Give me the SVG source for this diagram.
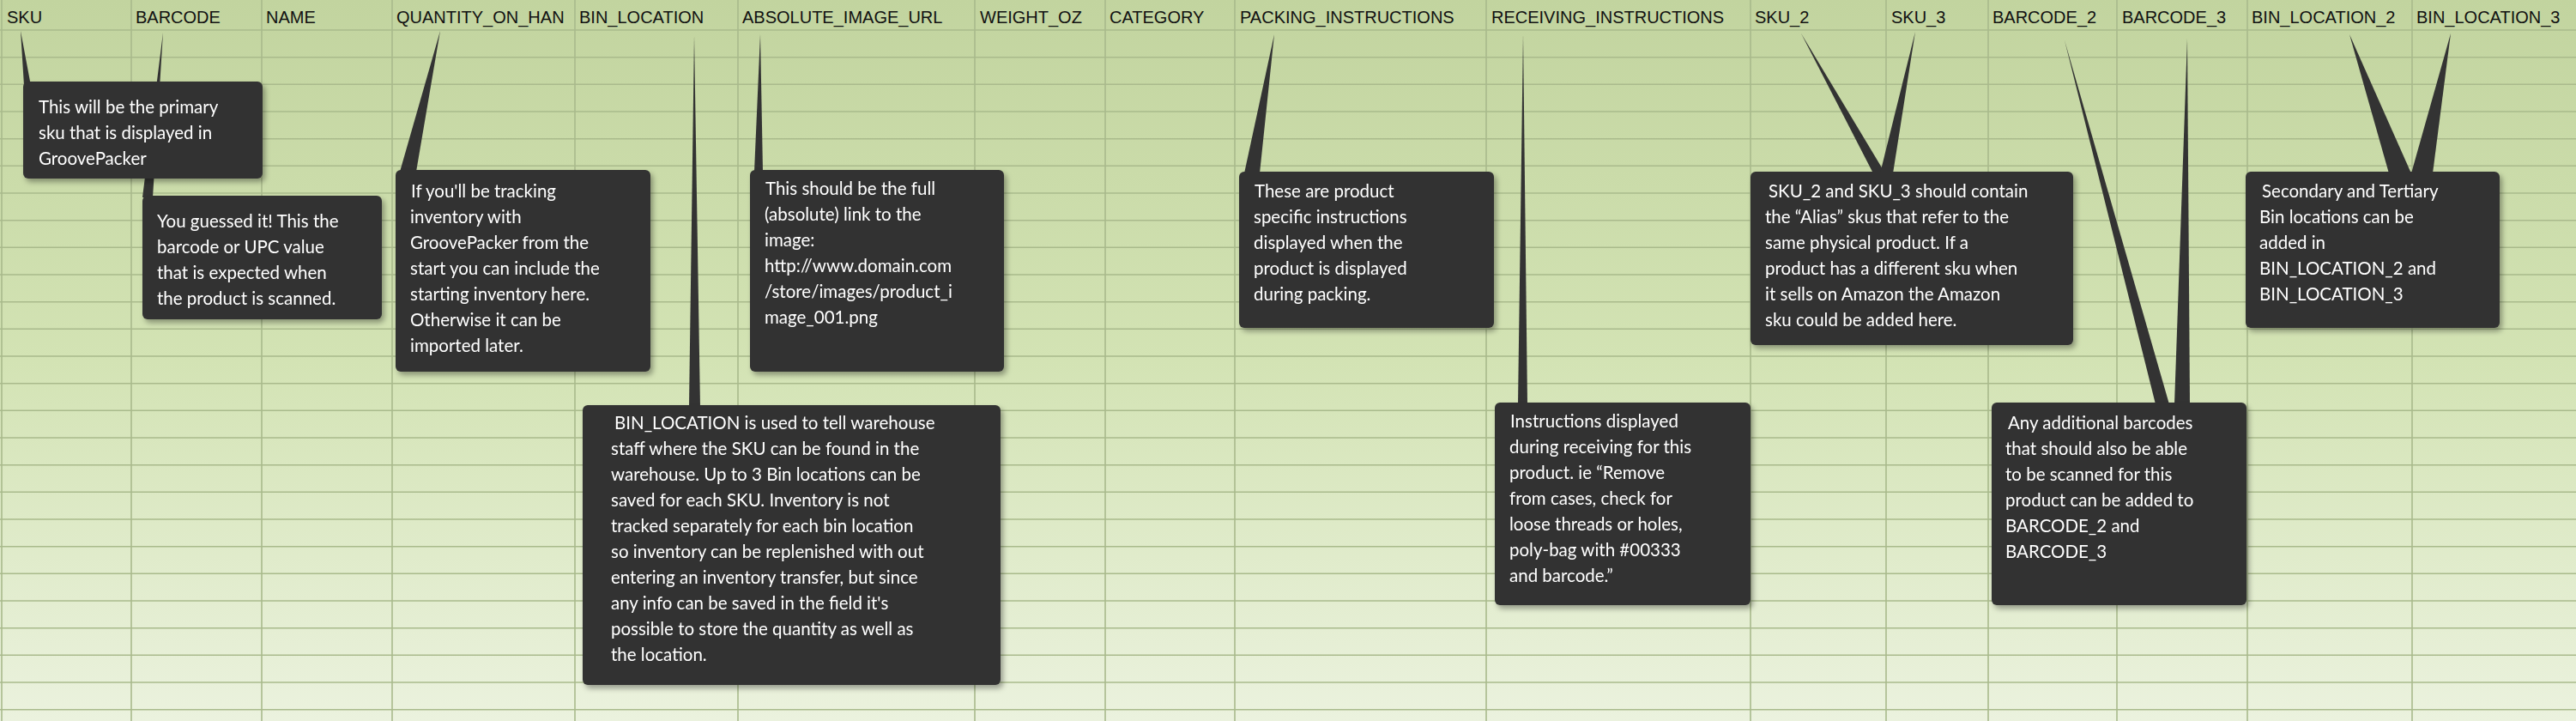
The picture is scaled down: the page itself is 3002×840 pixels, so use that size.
<svg xmlns="http://www.w3.org/2000/svg" width="3002" height="840" viewBox="0 0 3002 840">
<style>
.hd{font-family:"Liberation Sans",Arial,sans-serif;font-size:20px;fill:#111}
.bx{fill:#333333}
.tx{font-family:Lato,"Open Sans",sans-serif;font-size:20.5px;fill:#ffffff}
.g{stroke:#a9ba8c;stroke-width:1.6}
.p{fill:#333333}
</style>
<defs>
<linearGradient id="bg" x1="0" y1="0" x2="0" y2="1">
<stop offset="0" stop-color="#c2d49f"/>
<stop offset="0.5" stop-color="#d3e3b4"/>
<stop offset="1" stop-color="#ebf2de"/>
</linearGradient>
<filter id="sh" x="-10%" y="-10%" width="125%" height="125%">
<feDropShadow dx="3" dy="4" stdDeviation="3" flood-color="#000" flood-opacity="0.35"/>
</filter>
</defs>
<rect width="3002" height="840" fill="url(#bg)"/>
<g id="grid">
<path class="g" d="M0 35H3002M0 66.7H3002M0 98.3H3002M0 130H3002M0 161.7H3002M0 193.3H3002M0 225H3002M0 256.7H3002M0 288.3H3002M0 320H3002M0 351.7H3002M0 383.3H3002M0 415H3002M0 446.7H3002M0 478.3H3002M0 510H3002M0 541.7H3002M0 573.3H3002M0 605H3002M0 636.7H3002M0 668.3H3002M0 700H3002M0 731.7H3002M0 763.3H3002M0 795H3002M0 826.7H3002"/>
<path class="g" d="M2 0V840M153 0V840M305 0V840M457 0V840M670 0V840M860 0V840M1136 0V840M1288 0V840M1439 0V840M1732 0V840M2040 0V840M2198 0V840M2317 0V840M2467 0V840M2619 0V840M2811 0V840"/>
</g>
<g id="headers" class="hd">
<text x="8" y="27">SKU</text>
<text x="158" y="27">BARCODE</text>
<text x="310" y="27">NAME</text>
<text x="462" y="27">QUANTITY_ON_HAN</text>
<text x="675" y="27">BIN_LOCATION</text>
<text x="865" y="27">ABSOLUTE_IMAGE_URL</text>
<text x="1142" y="27">WEIGHT_OZ</text>
<text x="1293" y="27">CATEGORY</text>
<text x="1445" y="27">PACKING_INSTRUCTIONS</text>
<text x="1738" y="27">RECEIVING_INSTRUCTIONS</text>
<text x="2045" y="27">SKU_2</text>
<text x="2204" y="27">SKU_3</text>
<text x="2322" y="27">BARCODE_2</text>
<text x="2473" y="27">BARCODE_3</text>
<text x="2624" y="27">BIN_LOCATION_2</text>
<text x="2816" y="27">BIN_LOCATION_3</text>
</g>
<g id="connectors" class="p">
<polygon points="24,36 28,100 36,100"/>
<polygon points="190,38 166,230 178,230"/>
<polygon points="513,36 466,200 485,200"/>
<polygon points="809,42 803,474 816,474"/>
<polygon points="886,40 879,200 889,200"/>
<polygon points="1485,40 1450,202 1468,202"/>
<polygon points="1775,40 1769,471 1780,471"/>
<polygon points="2099,39 2183,202 2197,202"/>
<polygon points="2232,37 2191,202 2206,202"/>
<polygon points="2406,47 2512,471 2528,471"/>
<polygon points="2549,45 2534,471 2552,471"/>
<polygon points="2738,40 2784,202 2810,202"/>
<polygon points="2856,39 2810,202 2835,202"/>
</g>
<g id="n-sku" filter="url(#sh)"><rect class="bx" x="27" y="95" width="279" height="113" rx="6"/>
<text class="tx" x="45"><tspan x="45" y="132">This will be the primary</tspan><tspan x="45" y="162">sku that is displayed in</tspan><tspan x="45" y="192">GroovePacker</tspan></text></g>
<g id="n-barcode" filter="url(#sh)"><rect class="bx" x="166" y="228" width="279" height="144" rx="6"/>
<text class="tx"><tspan x="183" y="265">You guessed it! This the</tspan><tspan x="183" y="295">barcode or UPC value</tspan><tspan x="183" y="325">that is expected when</tspan><tspan x="183" y="355">the product is scanned.</tspan></text></g>
<g id="n-qty" filter="url(#sh)"><rect class="bx" x="461" y="198" width="297" height="235" rx="6"/>
<text class="tx"><tspan x="479" y="230">If you'll be tracking</tspan><tspan x="478" y="260">inventory with</tspan><tspan x="478" y="290">GroovePacker from the</tspan><tspan x="478" y="320">start you can include the</tspan><tspan x="478" y="350">starting inventory here.</tspan><tspan x="478" y="380">Otherwise it can be</tspan><tspan x="478" y="410">imported later.</tspan></text></g>
<g id="n-image" filter="url(#sh)"><rect class="bx" x="874" y="198" width="296" height="235" rx="6"/>
<text class="tx"><tspan x="892" y="227">This should be the full</tspan><tspan x="891" y="257">(absolute) link to the</tspan><tspan x="891" y="287">image:</tspan><tspan x="891" y="317">http://www.domain.com</tspan><tspan x="891" y="347">/store/images/product_i</tspan><tspan x="891" y="377">mage_001.png</tspan></text></g>
<g id="n-bin" filter="url(#sh)"><rect class="bx" x="679" y="472" width="487" height="326" rx="6"/>
<text class="tx"><tspan x="716" y="500">BIN_LOCATION is used to tell warehouse</tspan><tspan x="712" y="530">staff where the SKU can be found in the</tspan><tspan x="712" y="560">warehouse. Up to 3 Bin locations can be</tspan><tspan x="712" y="590">saved for each SKU. Inventory is not</tspan><tspan x="712" y="620">tracked separately for each bin location</tspan><tspan x="712" y="650">so inventory can be replenished with out</tspan><tspan x="712" y="680">entering an inventory transfer, but since</tspan><tspan x="712" y="710">any info can be saved in the field it's</tspan><tspan x="712" y="740">possible to store the quantity as well as</tspan><tspan x="712" y="770">the location.</tspan></text></g>
<g id="n-packing" filter="url(#sh)"><rect class="bx" x="1444" y="200" width="297" height="182" rx="6"/>
<text class="tx"><tspan x="1462" y="230">These are product</tspan><tspan x="1461" y="260">specific instructions</tspan><tspan x="1461" y="290">displayed when the</tspan><tspan x="1461" y="320">product is displayed</tspan><tspan x="1461" y="350">during packing.</tspan></text></g>
<g id="n-receiving" filter="url(#sh)"><rect class="bx" x="1742" y="469" width="298" height="236" rx="6"/>
<text class="tx"><tspan x="1760" y="498">Instructions displayed</tspan><tspan x="1759" y="528">during receiving for this</tspan><tspan x="1759" y="558">product. ie “Remove</tspan><tspan x="1759" y="588">from cases, check for</tspan><tspan x="1759" y="618">loose threads or holes,</tspan><tspan x="1759" y="648">poly-bag with #00333</tspan><tspan x="1759" y="678">and barcode.”</tspan></text></g>
<g id="n-sku2" filter="url(#sh)"><rect class="bx" x="2040" y="200" width="376" height="202" rx="6"/>
<text class="tx"><tspan x="2061" y="230">SKU_2 and SKU_3 should contain</tspan><tspan x="2057" y="260">the “Alias” skus that refer to the</tspan><tspan x="2057" y="290">same physical product. If a</tspan><tspan x="2057" y="320">product has a different sku when</tspan><tspan x="2057" y="350">it sells on Amazon the Amazon</tspan><tspan x="2057" y="380">sku could be added here.</tspan></text></g>
<g id="n-barcode2" filter="url(#sh)"><rect class="bx" x="2321" y="469" width="297" height="236" rx="6"/>
<text class="tx"><tspan x="2340" y="500">Any additional barcodes</tspan><tspan x="2337" y="530">that should also be able</tspan><tspan x="2337" y="560">to be scanned for this</tspan><tspan x="2337" y="590">product can be added to</tspan><tspan x="2337" y="620">BARCODE_2 and</tspan><tspan x="2337" y="650">BARCODE_3</tspan></text></g>
<g id="n-bin2" filter="url(#sh)"><rect class="bx" x="2617" y="200" width="296" height="182" rx="6"/>
<text class="tx"><tspan x="2636" y="230">Secondary and Tertiary</tspan><tspan x="2633" y="260">Bin locations can be</tspan><tspan x="2633" y="290">added in</tspan><tspan x="2633" y="320">BIN_LOCATION_2 and</tspan><tspan x="2633" y="350">BIN_LOCATION_3</tspan></text></g>
</svg>
